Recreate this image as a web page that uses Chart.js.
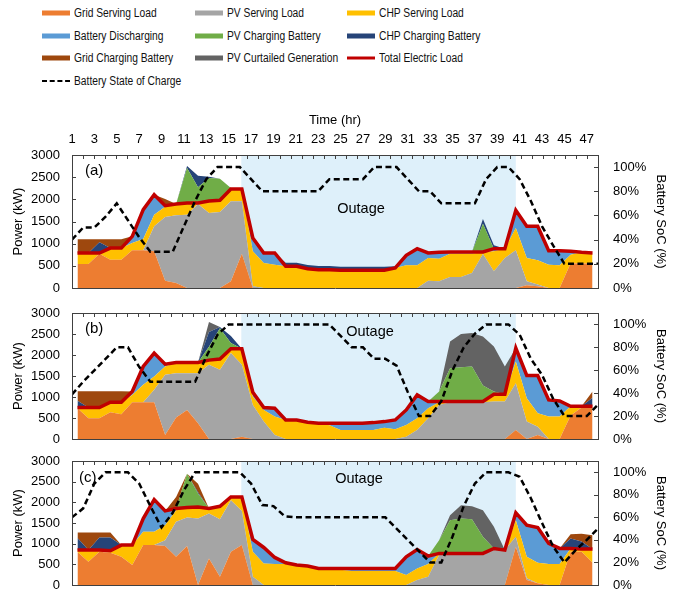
<!DOCTYPE html>
<html lang="en">

<head>
  <meta charset="UTF-8" />
  <title>Power dispatch and battery state of charge</title>
  <script src="https://cdn.jsdelivr.net/npm/chart.js"></script>
  <style>
    body {
      margin: 0;
      width: 674px;
      height: 590px;
      background: #fff;
      position: relative;
      overflow: hidden;
      font-family: "Liberation Sans", Arial, sans-serif;
    }

    .panel {
      position: absolute;
      left: 0;
    }

    .item {
      position: absolute;
      height: 16px;
      display: flex;
      align-items: center;
      white-space: nowrap;
    }

    .item span {
      display: inline-block;
      font-size: 12px;
      color: #111;
      transform: scaleX(0.855);
      transform-origin: left center;
      margin-left: 4px;
    }
  </style>
</head>

<body>
  <div id="legend"></div>
  <canvas id="chartA" class="panel" width="674" height="188" style="top:110px"></canvas>
  <canvas id="chartB" class="panel" width="674" height="149" style="top:300px"></canvas>
  <canvas id="chartC" class="panel" width="674" height="145" style="top:450px"></canvas>

  <script>
    const hours = [1, 2, 3, 4, 5, 6, 7, 8, 9, 10, 11, 12, 13, 14, 15, 16, 17, 18, 19, 20, 21, 22, 23, 24,
      25, 26, 27, 28, 29, 30, 31, 32, 33, 34, 35, 36, 37, 38, 39, 40, 41, 42, 43, 44, 45, 46, 47, 48];
    const topTicks = [1, 3, 5, 7, 9, 11, 13, 15, 17, 19, 21, 23, 25, 27, 29, 31, 33, 35, 37, 39, 41, 43, 45, 47];
    const powerTicks = [0, 500, 1000, 1500, 2000, 2500, 3000];
    const socTicks = [0, 20, 40, 60, 80, 100];
    const outageStart = 15.95;
    const outageEnd = 41.0;

    const seriesNames = ['Grid Serving Load', 'PV Serving Load', 'CHP Serving Load', 'Battery Discharging',
      'PV Charging Battery', 'CHP Charging Battery', 'Grid Charging Battery', 'PV Curtailed Generation'];
    const seriesColors = ['#ED7D31', '#A5A5A5', '#FFC000', '#5B9BD5', '#70AD47', '#264478', '#9E480E', '#636363'];

    // (a)
    const gridServeA = [540, 540, 775, 640, 640, 850, 850, 830, 165, 113, 0, 0, 0, 0, 150, 775, 0, 0, 0, 0, 0, 0, 0, 0,
      0, 0, 0, 0, 0, 0, 0, 0, 0, 0, 0, 0, 0, 0, 0, 0, 0, 60, 40, 0, 0, 560, 550, 550];
    const pvServeA = [0, 0, 0, 0, 0, 0, 0, 561, 1437, 1527, 1654, 1895, 1692, 1715, 1805, 1180, 38, 0, 0, 0, 0, 0, 0, 0,
      0, 0, 0, 0, 0, 0, 0, 0, 165, 150, 248, 250, 338, 767, 376, 677, 850, 90, 40, 0, 0, 0, 0, 0];
    const chpServeA = [250, 250, 15, 260, 260, 165, 255, 263, 228, 255, 264, 23, 271, 263, 278, 278, 789, 564, 526, 490, 490, 436, 414, 414,
      400, 400, 400, 400, 400, 451, 511, 511, 512, 512, 527, 525, 437, 45, 451, 210, 504, 527, 544, 526, 511, 192, 255, 240];
    const battDischA = [0, 0, 0, 0, 0, 150, 662, 451, 27, 0, 0, 0, 0, 0, 0, 0, 301, 226, 264, 0, 0, 0, 0, 0,
      0, 0, 0, 0, 0, 0, 226, 376, 113, 143, 37, 37, 37, 0, 60, 0, 398, 714, 767, 316, 331, 75, 0, 0];
    const pvChargeA = [0, 0, 0, 0, 0, 0, 0, 0, 0, 0, 789, 353, 519, 488, 20, 0, 0, 0, 0, 0, 0, 0, 0, 0,
      0, 0, 0, 0, 0, 0, 0, 0, 0, 0, 0, 0, 0, 639, 0, 0, 0, 0, 0, 0, 0, 0, 0, 0];
    const chpChargeA = [0, 0, 240, 0, 0, 0, 0, 0, 0, 0, 43, 263, 30, 0, 0, 0, 0, 0, 0, 80, 80, 80, 80, 80,
      80, 80, 80, 80, 80, 40, 0, 0, 0, 0, 0, 0, 0, 105, 75, 0, 0, 0, 0, 0, 0, 0, 0, 0];
    const gridChargeA = [310, 310, 70, 200, 200, 0, 0, 0, 150, 0, 0, 0, 0, 0, 0, 0, 0, 0, 0, 0, 0, 0, 0, 0,
      0, 0, 0, 0, 0, 0, 0, 0, 0, 0, 0, 0, 0, 0, 0, 0, 0, 0, 0, 0, 0, 0, 0, 0];
    const curtailA = [0, 0, 0, 0, 0, 0, 0, 0, 0, 0, 0, 0, 0, 0, 0, 0, 0, 0, 0, 0, 0, 0, 0, 0,
      0, 0, 0, 0, 0, 0, 0, 0, 0, 0, 0, 0, 0, 0, 0, 0, 0, 0, 0, 0, 0, 0, 0, 0];
    const loadA = [790, 790, 790, 900, 900, 1165, 1767, 2105, 1857, 1895, 1918, 1918, 1963, 1978, 2233, 2233, 1128, 790, 790, 490, 490, 436, 414, 414,
      400, 400, 400, 400, 400, 451, 737, 887, 790, 805, 812, 812, 812, 812, 887, 887, 1752, 1391, 1391, 842, 842, 827, 805, 790];
    const socA = [40, 50, 50, 59, 70, 56, 42, 30, 30, 30, 51, 72, 90, 100, 100, 100, 90, 80, 80, 80, 80, 80, 80, 90,
      90, 90, 90, 100, 100, 100, 90, 80, 80, 70, 70, 70, 70, 90, 100, 100, 90, 72, 51, 35, 20, 20, 20, 20];

    // (b)
    const gridServeB = [732, 493, 493, 637, 589, 875, 875, 875, 95, 509, 692, 374, 0, 0, 0, 56, 0, 0, 0, 0, 0, 0, 0, 0,
      0, 0, 0, 0, 0, 0, 0, 0, 0, 0, 0, 0, 0, 0, 0, 0, 215, 0, 95, 0, 0, 560, 750, 750];
    const pvServeB = [0, 0, 0, 0, 0, 0, 0, 295, 1433, 1059, 876, 1194, 1767, 1647, 2045, 1711, 812, 414, 95, 0, 0, 0, 0, 0,
      0, 0, 0, 0, 0, 0, 56, 215, 493, 812, 875, 875, 875, 875, 891, 891, 1114, 414, 199, 0, 0, 0, 0, 0];
    const chpServeB = [16, 255, 255, 238, 286, 175, 414, 318, 199, 254, 254, 254, 111, 255, 104, 382, 199, 278, 438, 454, 454, 398, 374, 330,
      215, 215, 215, 215, 270, 230, 278, 278, 239, 63, 16, 16, 16, 16, 175, 175, 517, 557, 319, 533, 533, 220, 30, 30];
    const battDischB = [0, 0, 0, 0, 0, 80, 438, 557, 56, 0, 0, 0, 0, 0, 0, 0, 103, 56, 199, 0, 0, 0, 0, 44,
      159, 159, 159, 175, 144, 224, 358, 557, 159, 16, 0, 0, 0, 0, 0, 0, 319, 541, 899, 398, 374, 0, 0, 0];
    const pvChargeB = [0, 0, 0, 0, 0, 0, 0, 0, 0, 0, 0, 0, 320, 732, 136, 0, 0, 0, 0, 0, 0, 0, 0, 0,
      0, 0, 0, 0, 0, 0, 0, 0, 0, 239, 796, 820, 836, 382, 64, 0, 0, 0, 0, 0, 0, 0, 0, 0];
    const chpChargeB = [160, 0, 0, 0, 0, 0, 0, 0, 0, 0, 0, 0, 350, 30, 166, 0, 0, 0, 0, 0, 0, 0, 0, 0,
      0, 0, 0, 0, 0, 0, 0, 0, 0, 0, 0, 0, 0, 0, 0, 0, 0, 0, 0, 0, 0, 0, 0, 200];
    const gridChargeB = [231, 390, 390, 263, 263, 0, 0, 0, 0, 0, 0, 0, 0, 0, 0, 0, 0, 0, 0, 0, 0, 0, 0, 0,
      0, 0, 0, 0, 0, 0, 0, 0, 0, 0, 0, 0, 0, 0, 0, 0, 0, 0, 0, 0, 0, 0, 0, 150];
    const curtailB = [0, 0, 0, 0, 0, 0, 0, 0, 0, 0, 0, 0, 240, 0, 0, 0, 0, 0, 0, 0, 0, 0, 0, 0,
      0, 0, 0, 0, 0, 0, 0, 0, 0, 0, 637, 788, 796, 1170, 1074, 661, 0, 0, 0, 0, 0, 0, 0, 0];
    const loadB = [748, 748, 748, 875, 875, 1130, 1727, 2045, 1783, 1822, 1822, 1822, 1878, 1902, 2149, 2149, 1114, 748, 732, 454, 454, 398, 374, 374,
      374, 374, 374, 390, 414, 454, 692, 1050, 891, 891, 891, 891, 891, 891, 1066, 1066, 2165, 1512, 1512, 931, 907, 780, 780, 780];
    const socB = [39, 50, 60, 70, 80, 80, 63, 50, 50, 50, 50, 50, 72, 91, 100, 100, 100, 100, 100, 100, 100, 100, 100, 100,
      90, 80, 80, 70, 70, 64, 41, 20, 20, 33, 60, 80, 92, 100, 100, 100, 91, 70, 56, 35, 20, 20, 20, 30];

    // (c)
    const gridServeC = [800, 563, 804, 780, 683, 482, 965, 965, 941, 683, 941, 0, 643, 201, 804, 965, 0, 0, 0, 0, 0, 0, 0, 0,
      0, 0, 0, 0, 0, 0, 0, 0, 0, 0, 0, 0, 0, 0, 0, 0, 925, 120, 40, 0, 0, 804, 804, 539];
    const pvServeC = [0, 0, 0, 0, 0, 0, 0, 0, 144, 845, 691, 1608, 1086, 1391, 1246, 828, 201, 0, 0, 0, 0, 0, 0, 0,
      0, 0, 0, 0, 0, 0, 0, 120, 201, 724, 724, 724, 724, 724, 884, 844, 241, 41, 0, 0, 0, 0, 0, 0];
    const chpServeC = [44, 281, 40, 48, 282, 483, 321, 321, 362, 281, 241, 281, 120, 313, 81, 338, 603, 523, 507, 507, 482, 458, 402, 402,
      370, 340, 340, 340, 340, 340, 241, 282, 306, 40, 40, 40, 40, 40, 0, 0, 402, 522, 499, 507, 507, 80, 64, 329];
    const battDischC = [0, 0, 0, 0, 0, 0, 322, 780, 346, 40, 0, 0, 0, 0, 0, 0, 297, 385, 160, 32, 0, 0, 0, 0,
      32, 62, 62, 62, 62, 62, 442, 458, 192, 0, 0, 0, 0, 0, 0, 0, 177, 764, 852, 498, 377, 0, 0, 0];
    const pvChargeC = [0, 0, 0, 0, 0, 0, 0, 0, 0, 0, 820, 322, 0, 0, 0, 0, 0, 0, 0, 0, 0, 0, 0, 0,
      0, 0, 0, 0, 0, 0, 0, 0, 0, 321, 804, 844, 828, 402, 0, 0, 0, 0, 0, 0, 0, 0, 0, 0];
    const chpChargeC = [296, 0, 306, 322, 0, 0, 0, 0, 0, 0, 0, 30, 0, 0, 0, 0, 0, 0, 0, 0, 0, 0, 0, 0,
      0, 0, 0, 0, 0, 0, 0, 0, 0, 0, 0, 0, 0, 0, 0, 0, 0, 0, 0, 0, 0, 242, 182, 0];
    const gridChargeC = [130, 426, 120, 120, 0, 0, 0, 0, 0, 281, 0, 211, 0, 0, 0, 0, 0, 0, 0, 0, 0, 0, 0, 0,
      0, 0, 0, 0, 0, 0, 0, 0, 0, 0, 0, 0, 0, 0, 0, 0, 0, 0, 0, 0, 0, 104, 187, 338];
    const curtailC = [0, 0, 0, 0, 0, 0, 0, 0, 0, 0, 0, 0, 0, 0, 0, 0, 0, 0, 0, 0, 0, 0, 0, 0,
      0, 0, 0, 0, 0, 0, 0, 0, 0, 0, 120, 322, 313, 643, 523, 0, 0, 0, 0, 0, 0, 0, 0, 0];
    const loadC = [844, 844, 844, 828, 965, 965, 1608, 2066, 1793, 1849, 1873, 1889, 1849, 1905, 2131, 2131, 1101, 908, 667, 539, 482, 458, 402, 402,
      402, 402, 402, 402, 402, 402, 683, 860, 699, 764, 764, 764, 764, 764, 884, 844, 1745, 1447, 1391, 1005, 884, 884, 868, 868];
    const socC = [60, 68, 90, 100, 100, 100, 90, 70, 51, 64, 84, 100, 100, 100, 100, 100, 90, 71, 70, 61, 60, 60, 60, 60,
      60, 60, 60, 60, 60, 50, 40, 30, 20, 20, 43, 70, 90, 100, 100, 100, 96, 77, 55, 34, 20, 31, 40, 50];

    const frameColor = '#404040';
    Chart.defaults.font.family = '"Liberation Sans", Arial, sans-serif';
    Chart.defaults.font.size = 13;
    Chart.defaults.color = '#000';

    // legend (html, three columns)
    const legendCols = [42, 195, 347];
    const legendRows = [13, 36, 58, 81];
    const legendBox = document.getElementById('legend');
    const legendEntries = seriesNames.map((n, i) => ({ name: n, color: seriesColors[i], kind: 'area' }));
    legendEntries.push({ name: 'Total Electric Load', color: '#C00000', kind: 'line' });
    legendEntries.push({ name: 'Battery State of Charge', color: '#000', kind: 'dash' });

    legendEntries.forEach((e, i) => {
      const div = document.createElement('div');
      div.className = 'item';
      div.style.left = legendCols[i % 3] + 'px';
      div.style.top = (legendRows[Math.floor(i / 3)] - 8) + 'px';
      let swatch;
      if (e.kind === 'area') {
        swatch = `<svg width="28" height="6"><rect x="0" y="0.5" width="28" height="5" fill="${e.color}"/></svg>`;
      } else if (e.kind === 'line') {
        swatch = `<svg width="28" height="6"><line x1="0" y1="3" x2="28" y2="3" stroke="${e.color}" stroke-width="3"/></svg>`;
      } else {
        swatch = `<svg width="28" height="6"><line x1="0" y1="3" x2="28" y2="3" stroke="${e.color}" stroke-width="2" stroke-dasharray="5,2.7"/></svg>`;
      }
      div.innerHTML = swatch + `<span>${e.name}</span>`;
      legendBox.appendChild(div);
    });

    const outageShade = {
      id: 'outageShade',
      beforeDatasetsDraw(chart, args, opts) {
        const { ctx, chartArea: a, scales } = chart;
        const x0 = scales.x.getPixelForValue(outageStart);
        const x1 = scales.x.getPixelForValue(outageEnd);
        ctx.save();
        ctx.fillStyle = '#DEF0FA';
        ctx.fillRect(x0, a.top, x1 - x0, a.bottom - a.top);
        ctx.fillStyle = '#000';
        ctx.textBaseline = 'middle';
        ctx.font = '15px "Liberation Sans", Arial, sans-serif';
        ctx.textAlign = 'left';
        ctx.fillText(opts.tag, a.left + opts.tagDx, a.top + opts.tagDy);
        ctx.font = '14.5px "Liberation Sans", Arial, sans-serif';
        ctx.textAlign = 'center';
        ctx.fillText('Outage', opts.outX, a.top + opts.outDy);
        ctx.restore();
      }
    };

    // excel style tick marks pointing into the plot
    const insideTicks = {
      id: 'insideTicks',
      afterDatasetsDraw(chart) {
        const { ctx, chartArea: a, scales } = chart;
        ctx.save();
        ctx.strokeStyle = frameColor;
        ctx.lineWidth = 1;
        ctx.beginPath();
        for (let v = 0.5; v <= 48.5; v += 1) {
          const x = Math.round(scales.x.getPixelForValue(v)) + 0.5;
          ctx.moveTo(x, a.top);
          ctx.lineTo(x, a.top + 4);
        }
        powerTicks.forEach(t => {
          const y = Math.round(scales.y.getPixelForValue(t)) + 0.5;
          ctx.moveTo(a.left, y);
          ctx.lineTo(a.left + 4, y);
        });
        socTicks.forEach(t => {
          const y = Math.round(scales.y1.getPixelForValue(t)) + 0.5;
          ctx.moveTo(a.right, y);
          ctx.lineTo(a.right - 4, y);
        });
        ctx.stroke();
        ctx.restore();
      }
    };

    function plotarPainel(p) {
      const areas = p.areas.map((vals, i) => ({
        label: seriesNames[i],
        data: hours.map((h, k) => ({ x: h, y: vals[k] })),
        backgroundColor: seriesColors[i],
        borderColor: 'rgba(0,0,0,0)',
        borderWidth: 0,
        pointRadius: 0,
        fill: i === 0 ? 'origin' : '-1',
        stack: 'supply',
        xAxisID: 'x',
        yAxisID: 'y',
        order: 0
      }));

      const load = {
        label: 'Total Electric Load',
        data: hours.map((h, k) => ({ x: h, y: p.load[k] })),
        borderColor: '#C00000',
        borderWidth: 3.5,
        pointRadius: 0,
        fill: false,
        stack: 'load',
        xAxisID: 'x',
        yAxisID: 'y',
        order: -1
      };

      const soc = {
        label: 'Battery State of Charge',
        data: hours.map((h, k) => ({ x: h, y: p.soc[k] })),
        borderColor: '#000',
        borderWidth: 2.5,
        borderDash: [6, 3.5],
        pointRadius: 0,
        fill: false,
        xAxisID: 'x2',
        yAxisID: 'y1',
        order: -2
      };

      new Chart(document.getElementById(p.id), {
        type: 'line',
        data: { datasets: [...areas, load, soc] },
        options: {
          responsive: false,
          animation: false,
          devicePixelRatio: 1,
          events: [],
          layout: { padding: 0 },
          plugins: {
            legend: { display: false },
            tooltip: { enabled: false },
            outageShade: { tag: p.tag, tagDx: p.tagDx, tagDy: p.tagDy, outX: p.outX, outDy: p.outDy }
          },
          scales: {
            x: {
              type: 'linear',
              position: 'bottom',
              min: 0.5,
              max: 48.5,
              ticks: { display: false },
              grid: { display: false, drawTicks: false },
              border: { color: frameColor, z: 1 },
              afterFit: s => { s.height = 10; }
            },
            x2: {
              type: 'linear',
              position: 'top',
              min: 1,
              max: 48,
              ticks: { display: p.showTime, autoSkip: false, maxRotation: 0, padding: 0 },
              afterBuildTicks: s => { s.ticks = topTicks.map(v => ({ value: v })); },
              grid: { display: false, drawTicks: true, tickLength: 8 },
              border: { color: frameColor, z: 1 },
              title: { display: p.showTime, text: 'Time (hr)', padding: { top: 3, bottom: 0 } },
              afterFit: s => { s.height = p.topH; }
            },
            y: {
              stacked: true,
              min: 0,
              max: 3000,
              afterBuildTicks: s => { s.ticks = powerTicks.map(v => ({ value: v })); },
              ticks: { padding: 0, callback: v => String(v) },
              grid: { display: false, drawTicks: true, tickLength: 12 },
              border: { color: frameColor, z: 1 },
              title: { display: true, text: 'Power (kW)', padding: { top: 11, bottom: 0 } },
              afterFit: s => { s.width = 72; }
            },
            y1: {
              position: 'right',
              min: 0,
              max: 110,
              afterBuildTicks: s => { s.ticks = socTicks.map(v => ({ value: v })); },
              ticks: { padding: 0, callback: v => v + '%' },
              grid: { display: false, drawTicks: true, tickLength: 15 },
              border: { color: frameColor, z: 1 },
              title: { display: true, text: 'Battery SoC (%)', padding: { top: 6, bottom: 0 } },
              afterFit: s => { s.width = 76; }
            }
          }
        },
        plugins: [outageShade, insideTicks]
      });
    }

    plotarPainel({
      id: 'chartA', tag: '(a)', tagDx: 13, tagDy: 16, outX: 361, outDy: 54, showTime: true, topH: 45,
      areas: [gridServeA, pvServeA, chpServeA, battDischA, pvChargeA, chpChargeA, gridChargeA, curtailA],
      load: loadA, soc: socA
    });
    plotarPainel({
      id: 'chartB', tag: '(b)', tagDx: 13, tagDy: 16, outX: 370, outDy: 19, showTime: false, topH: 13,
      areas: [gridServeB, pvServeB, chpServeB, battDischB, pvChargeB, chpChargeB, gridChargeB, curtailB],
      load: loadB, soc: socB
    });
    plotarPainel({
      id: 'chartC', tag: '(c)', tagDx: 7, tagDy: 17, outX: 359, outDy: 18, showTime: false, topH: 11,
      areas: [gridServeC, pvServeC, chpServeC, battDischC, pvChargeC, chpChargeC, gridChargeC, curtailC],
      load: loadC, soc: socC
    });
  </script>
</body>

</html>
